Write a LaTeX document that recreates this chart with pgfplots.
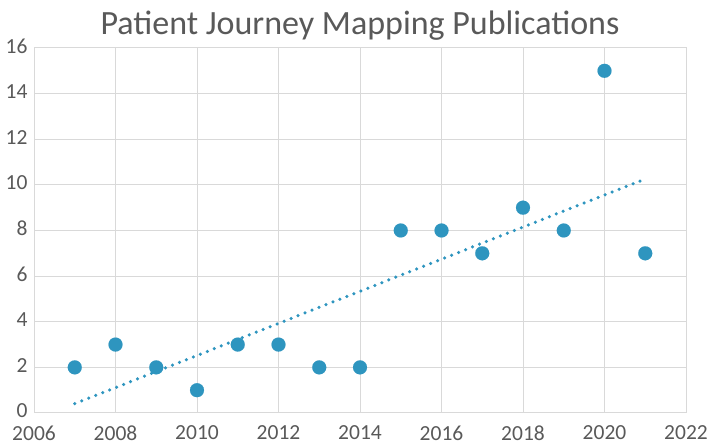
\documentclass[border=0pt]{standalone}
\usepackage{pgfplots}
\pgfplotsset{compat=1.18}
\usepackage{fontspec}
\setmainfont{Carlito}
\definecolor{txt}{HTML}{595959}
\definecolor{grd}{HTML}{D9D9D9}
\definecolor{dot}{HTML}{2E95BF}
\begin{document}
\begin{tikzpicture}
\begin{axis}[
  at={(0pt,0pt)}, anchor=south west,
  scale only axis,
  width=652pt, height=365pt,
  xmin=2006, xmax=2022, ymin=0, ymax=16,
  xtick={2006,2008,...,2022}, ytick={0,2,...,16},
  grid=major,
  major grid style={grd, line width=1pt},
  axis line style={grd, line width=1pt},
  tick style={draw=none},
  /pgf/number format/assume math mode=true,
  /pgf/number format/1000 sep={},
  ticklabel style={font=\fontsize{21.5}{24}\selectfont, text=txt},
  xticklabel style={yshift=-9pt},
  yticklabel style={xshift=-3pt, yshift=2pt},
  title={Patient Journey Mapping Publications},
  title style={font=\fontsize{34}{40}\selectfont, text=txt, yshift=-2pt},
  clip=false,
]
\addplot[dot, line width=3.5pt, dash pattern=on 0pt off 7.5pt, line cap=round] coordinates {(2007,0.41) (2021,10.26)};
\addplot[only marks, color=dot, mark=*, mark size=7pt, mark options={fill=dot, draw=dot, line width=0.1pt}] coordinates {
(2007,2) (2008,3) (2009,2) (2010,1) (2011,3) (2012,3) (2013,2) (2014,2)
(2015,8) (2016,8) (2017,7) (2018,9) (2019,8) (2020,15) (2021,7)};
\end{axis}
\pgfresetboundingbox
\path[use as bounding box] (-34pt,-33pt) rectangle (675pt,413pt);
\end{tikzpicture}
\end{document}
